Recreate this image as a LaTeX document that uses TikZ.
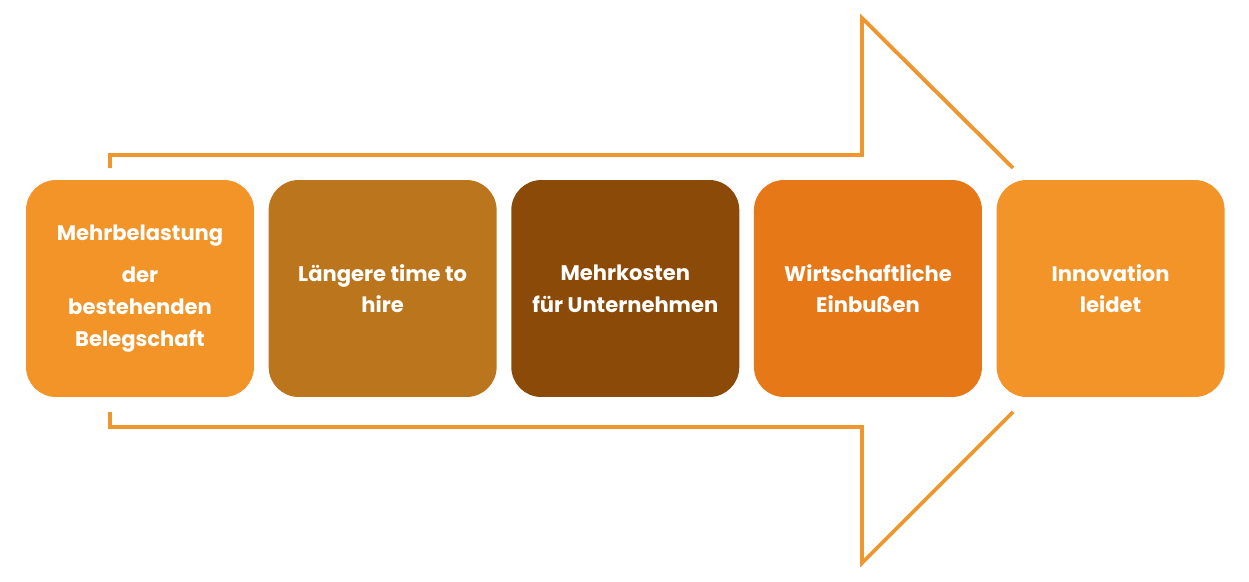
\documentclass[tikz,border=0pt]{standalone}
\usepackage{fontspec}
\setmainfont{Poppins}
\usetikzlibrary{positioning}
\definecolor{orangeA}{HTML}{F29427}
\definecolor{brownA}{HTML}{BB761D}
\definecolor{brownB}{HTML}{8B4A08}
\definecolor{orangeB}{HTML}{E67817}
\definecolor{lineorange}{HTML}{F0962F}
\begin{document}
\begin{tikzpicture}[x=0.02cm,y=-0.02cm,
  stepbox/.style = {rounded corners=0.6cm, minimum width=4.56cm, minimum height=4.34cm,
    align=center, text=white, font=\bfseries\fontsize{12}{18}\selectfont, inner sep=2pt},
  outline/.style = {draw=lineorange, line width=2.2pt}
]
\useasboundingbox (0,0) rectangle (1249,582);

% big arrow outline
\draw[outline] (110,168) -- (110,155) -- (862,155) -- (862,18) -- (1013,168);
\draw[outline] (110,412) -- (110,427) -- (862,427) -- (862,563) -- (1013,412);

% steps
\node[stepbox, fill=orangeA] (load) at (140,288.5) {Mehrbelastung\\[6pt]der\\bestehenden\\Belegschaft};
\node[stepbox, fill=brownA, right=0.28cm of load] (hire) {Längere time to\\hire};
\node[stepbox, fill=brownB, right=0.28cm of hire] (cost) {Mehrkosten\\für Unternehmen};
\node[stepbox, fill=orangeB, right=0.28cm of cost] (loss) {Wirtschaftliche\\Einbußen};
\node[stepbox, fill=orangeA, right=0.28cm of loss] (innov) {Innovation\\leidet};
\end{tikzpicture}
\end{document}
